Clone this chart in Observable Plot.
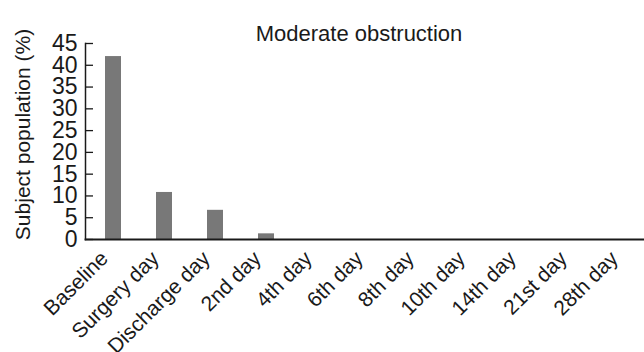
<!DOCTYPE html>
<html>
<head>
<meta charset="utf-8">
<script src="https://cdn.jsdelivr.net/npm/d3@7"></script>
<script src="https://cdn.jsdelivr.net/npm/@observablehq/plot@0.6"></script>
<style>
  html, body { margin: 0; padding: 0; background: #fff; }
  svg { display: block; }
</style>
</head>
<body>
<div id="chart"></div>
<script>
const title = "Moderate obstruction";
const yLabel = "Subject population (%)";
const categories = ["Baseline", "Surgery day", "Discharge day", "2nd day", "4th day", "6th day", "8th day", "10th day", "14th day", "21st day", "28th day"];
const values = [42, 10.8, 6.7, 1.3, 0, 0, 0, 0, 0, 0, 0];
const yTicks = [0, 5, 10, 15, 20, 25, 30, 35, 40, 45];

const data = categories.map((c, i) => ({category: c, value: values[i]}));
const font = "'Liberation Sans', Arial, sans-serif";

const chart = Plot.plot({
  width: 644,
  height: 352,
  marginLeft: 85,
  marginRight: 0,
  marginTop: 43,
  marginBottom: 113,
  style: {fontFamily: font, fontSize: "21px", color: "#1a1a1a", background: "#fff"},
  x: {domain: categories, range: [85, 650], paddingInner: 0.69, paddingOuter: 0.33},
  y: {domain: [0, 45], ticks: yTicks},
  marks: [
    Plot.barY(data, {x: "category", y: "value", fill: "#787878"}),
    Plot.axisY({ticks: yTicks, tickSize: 0, tickPadding: 8, fontSize: 23, label: null}),
    Plot.text([yLabel], {frameAnchor: "left", text: d => d, rotate: -90, textAnchor: "middle", lineAnchor: "middle", dx: -62.5, dy: -7, fontSize: 21, fill: "#1a1a1a"}),
    Plot.tickY(yTicks, {y: d => d, insetRight: 644 - 85 - 8, stroke: "#1a1a1a", strokeWidth: 1.3}),
    Plot.axisX({tickSize: 0, tickRotate: -45, tickPadding: 8, textAnchor: "end", lineAnchor: "middle", dx: -9, dy: 7.5, fontSize: 21, label: null}),
    Plot.frame({anchor: "left", stroke: "#1a1a1a", strokeWidth: 1.5}),
    Plot.frame({anchor: "bottom", stroke: "#1a1a1a", strokeWidth: 1.8}),
    Plot.text([title], {frameAnchor: "top", text: d => d, dy: -18, dx: -6, fontSize: 22, fill: "#1a1a1a"})
  ]
});
document.getElementById("chart").appendChild(chart);
</script>
</body>
</html>
